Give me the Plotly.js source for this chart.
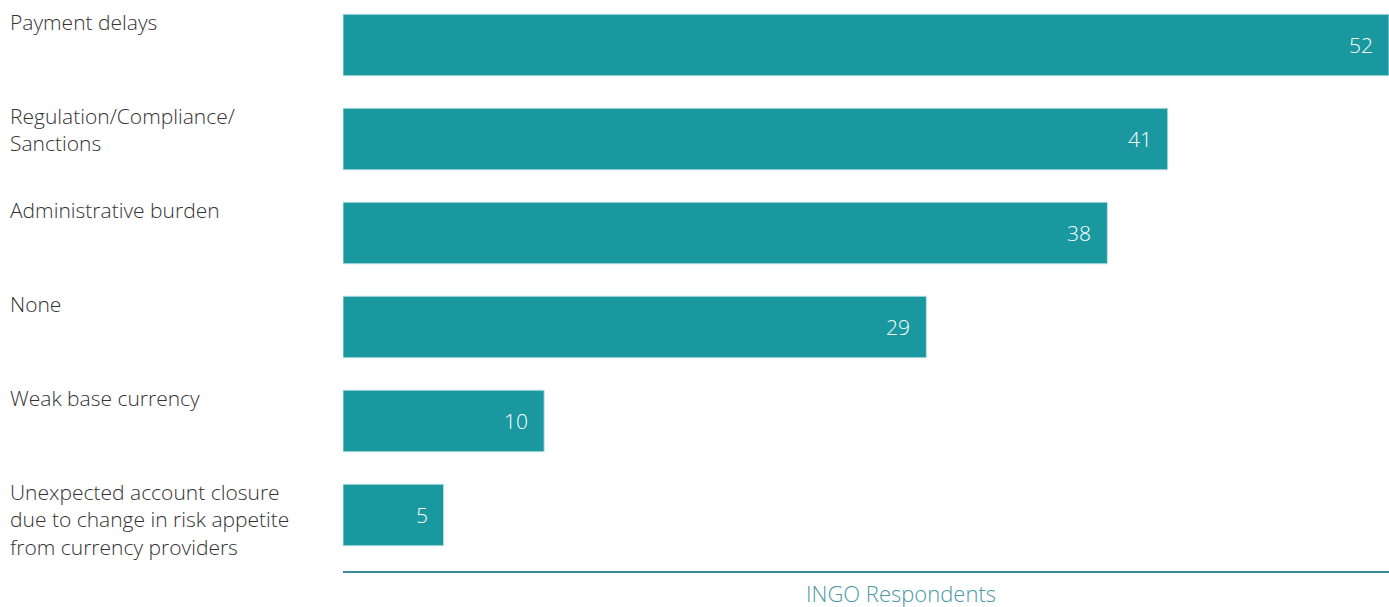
<!DOCTYPE html>
<html>
<head>
<meta charset="utf-8">
<script src="https://cdn.plot.ly/plotly-3.0.1.min.js"></script>
<style>
  html, body { margin: 0; padding: 0; background: #ffffff; }
  #chart { width: 1389px; height: 607px; }
</style>
</head>
<body>
<div id="chart"></div>
<script>
const categories = [
  "Payment delays",
  "Regulation/Compliance/<br>Sanctions",
  "Administrative burden",
  "None",
  "Weak base currency",
  "Unexpected account closure<br>due to change in risk appetite<br>from currency providers"
];
const values = [52, 41, 38, 29, 10, 5];
const axisTitle = "INGO Respondents";

const FONT = "Open Sans, Noto Sans, sans-serif";
const idx = categories.map((_, i) => i);

const trace = {
  type: "bar",
  orientation: "h",
  x: values,
  y: idx,
  width: 0.655,
  marker: { color: "#1A98A0", line: { color: "rgba(190,225,228,0.9)", width: 1 } },
  hoverinfo: "none"
};

const annotations = [];
categories.forEach((c, i) => {
  annotations.push({
    text: c, xref: "paper", yref: "y", x: -0.3203, y: i,
    xanchor: "left", yanchor: "top", align: "left",
    yshift: 0.325 * 94 + 8,
    showarrow: false,
    font: { family: FONT, size: 21, color: "#333333", weight: 300 }
  });
  annotations.push({
    text: String(values[i]), xref: "x", yref: "y", x: values[i], y: i,
    xanchor: "right", yanchor: "middle", xshift: -14,
    showarrow: false,
    font: { family: FONT, size: 21, color: "#ffffff", weight: 300 }
  });
});
annotations.push({
  text: axisTitle, xref: "paper", yref: "paper", x: 0.5335, y: 0,
  xanchor: "center", yanchor: "middle", yshift: -22, showarrow: false,
  font: { family: FONT, size: 22, color: "#4A97A5", weight: 300 }
});

const layout = {
  width: 1389, height: 607,
  margin: { l: 343, r: 0, t: 0, b: 36, pad: 0 },
  paper_bgcolor: "#ffffff", plot_bgcolor: "#ffffff",
  showlegend: false,
  xaxis: {
    range: [0, 52], showgrid: false, zeroline: false, showticklabels: false,
    ticks: "", showline: true, linecolor: "#3A8B98", linewidth: 2, fixedrange: true
  },
  yaxis: {
    type: "linear", range: [5.596, -0.479], showgrid: false, zeroline: false,
    showticklabels: false, ticks: "", showline: false, fixedrange: true
  },
  annotations: annotations,
  font: { family: FONT }
};

Plotly.newPlot("chart", [trace], layout, { staticPlot: true, displayModeBar: false });
</script>
</body>
</html>
